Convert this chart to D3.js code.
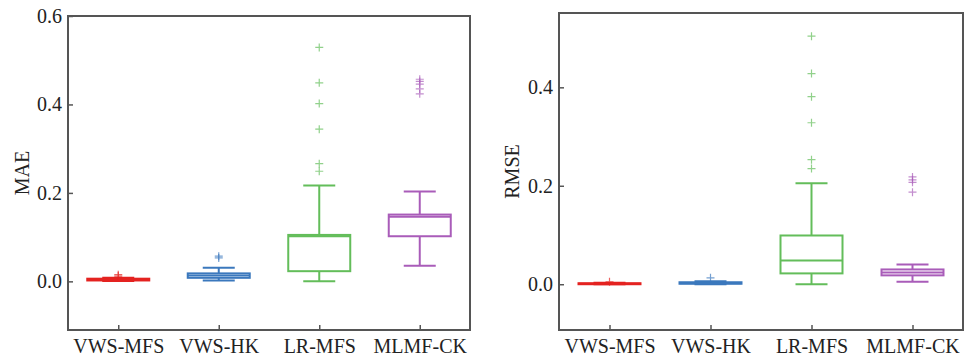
<!DOCTYPE html>
<html>
<head>
<meta charset="utf-8">
<script src="https://cdn.jsdelivr.net/npm/d3@7"></script>
<style>
  body { margin: 0; background: #fff; }
  svg { display: block; }
</style>
</head>
<body>
<div id="vis"></div>
<script>
const categories = ["VWS-MFS", "VWS-HK", "LR-MFS", "MLMF-CK"];
const colors = ["#e42320", "#3b78bd", "#63bd5a", "#a95cb9"];

// MAE box stats
const maeLow    = [0.001, 0.002, 0.000, 0.035];
const maeQ1     = [0.002, 0.008, 0.023, 0.102];
const maeMedian = [0.004, 0.013, 0.102, 0.146];
const maeQ3     = [0.006, 0.018, 0.105, 0.151];
const maeHigh   = [0.008, 0.031, 0.217, 0.203];
const maeOutliers = [
  [0.012, 0.015],
  [0.053, 0.057],
  [0.529, 0.449, 0.402, 0.344, 0.266, 0.249],
  [0.457, 0.452, 0.446, 0.435, 0.424]
];
const maeTicks = [0.0, 0.2, 0.4, 0.6];

// RMSE box stats
const rmseLow    = [0.000, 0.000, 0.000, 0.005];
const rmseQ1     = [0.000, 0.001, 0.022, 0.018];
const rmseMedian = [0.001, 0.002, 0.048, 0.024];
const rmseQ3     = [0.002, 0.004, 0.099, 0.030];
const rmseHigh   = [0.003, 0.006, 0.205, 0.040];
const rmseOutliers = [
  [0.005],
  [0.013],
  [0.504, 0.428, 0.381, 0.328, 0.253, 0.235],
  [0.218, 0.212, 0.207, 0.187]
];
const rmseTicks = [0.0, 0.2, 0.4];

const font = `"Liberation Serif", "Times New Roman", "DejaVu Serif", serif`;

var svg = d3.select("#vis").append("svg")
  .attr("width", 970).attr("height", 357);

function drawPanel(p) {
  const x = d3.scalePoint().domain(categories).range([p.x0, p.x1]).padding(0.5);
  const y = d3.scaleLinear().domain(p.domain).range([p.y1, p.y0]);
  const g = svg.append("g");
  const boxW = 62, capW = 32;

  categories.forEach((c, i) => {
    const cx = x(c), col = colors[i];
    // whiskers
    g.append("line").attr("x1", cx).attr("x2", cx)
      .attr("y1", y(p.q3[i])).attr("y2", y(p.high[i]))
      .attr("stroke", col).attr("stroke-width", 2);
    g.append("line").attr("x1", cx).attr("x2", cx)
      .attr("y1", y(p.q1[i])).attr("y2", y(p.low[i]))
      .attr("stroke", col).attr("stroke-width", 2);
    [p.high[i], p.low[i]].forEach(v => {
      g.append("line").attr("x1", cx - capW / 2).attr("x2", cx + capW / 2)
        .attr("y1", y(v)).attr("y2", y(v))
        .attr("stroke", col).attr("stroke-width", 2);
    });
    // box
    g.append("rect").attr("x", cx - boxW / 2).attr("width", boxW)
      .attr("y", y(p.q3[i])).attr("height", Math.max(0, y(p.q1[i]) - y(p.q3[i])))
      .attr("fill", "none").attr("stroke", col).attr("stroke-width", 2);
    g.append("line").attr("x1", cx - boxW / 2).attr("x2", cx + boxW / 2)
      .attr("y1", y(p.median[i])).attr("y2", y(p.median[i]))
      .attr("stroke", col).attr("stroke-width", 2);
    // outliers
    p.outliers[i].forEach(v => {
      g.append("path")
        .attr("d", `M${cx - 4},${y(v)}H${cx + 4}M${cx},${y(v) - 4}V${y(v) + 4}`)
        .attr("stroke", col).attr("stroke-width", 1.2).attr("opacity", 0.7)
        .attr("fill", "none");
    });
  });

  // frame
  g.append("rect").attr("x", p.x0).attr("y", p.y0)
    .attr("width", p.x1 - p.x0).attr("height", p.y1 - p.y0)
    .attr("fill", "none").attr("stroke", "#555").attr("stroke-width", 2);

  // y axis
  const ya = g.append("g").attr("transform", `translate(${p.x0},0)`)
    .call(d3.axisLeft(y).tickValues(p.ticks).tickFormat(d3.format(".1f")).tickSizeInner(-5).tickSizeOuter(0).tickPadding(6));
  ya.select(".domain").remove();
  ya.selectAll("line").attr("stroke", "#555").attr("stroke-width", 1.5);
  ya.selectAll("text").style("font-family", font).style("font-size", "20px").attr("fill", "#222");

  // x axis
  const xa = g.append("g").attr("transform", `translate(0,${p.y1})`)
    .call(d3.axisBottom(x).tickSizeInner(-5).tickSizeOuter(0).tickPadding(9));
  xa.select(".domain").remove();
  xa.selectAll("line").attr("stroke", "#555").attr("stroke-width", 1.5);
  xa.selectAll("text").style("font-family", font).style("font-size", "20px").attr("fill", "#222");

  // y label
  g.append("text")
    .attr("transform", `translate(${p.labelX},${(p.y0 + p.y1) / 2 + 0}) rotate(-90)`)
    .attr("text-anchor", "middle")
    .style("font-family", font).style("font-size", "20px").attr("fill", "#222")
    .text(p.label);
}

drawPanel({
  x0: 68, x1: 470, y0: 16, y1: 330, domain: [-0.11, 0.6], ticks: maeTicks,
  low: maeLow, q1: maeQ1, median: maeMedian, q3: maeQ3, high: maeHigh,
  outliers: maeOutliers, label: "MAE", labelX: 29
});
drawPanel({
  x0: 559, x1: 963, y0: 13, y1: 330, domain: [-0.093, 0.551], ticks: rmseTicks,
  low: rmseLow, q1: rmseQ1, median: rmseMedian, q3: rmseQ3, high: rmseHigh,
  outliers: rmseOutliers, label: "RMSE", labelX: 519
});
</script>
</body>
</html>
